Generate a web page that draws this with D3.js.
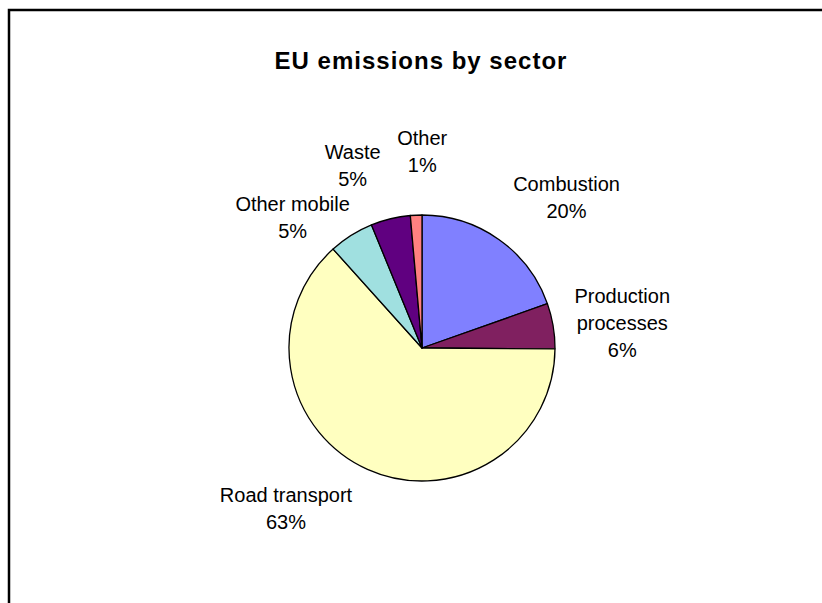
<!DOCTYPE html>
<html>
<head>
<meta charset="utf-8">
<script src="https://cdn.jsdelivr.net/npm/d3@7"></script>
<style>
  body { margin: 0; background: #fff; }
  svg { display: block; font-family: "Liberation Sans", Arial, sans-serif; }
</style>
</head>
<body>
<div id="chart"></div>
<script>
// pie data (percent of total)
const sectors = ["Combustion", "Production processes", "Road transport", "Other mobile", "Waste", "Other"];
const shares = [19.6, 5.5, 63.25, 5.45, 4.8, 1.4];
const colours = ["#8080FF", "#802060", "#FFFFC0", "#A0E0E0", "#600080", "#FF8080"];
// how each label is broken over lines
const labelLines = [["Combustion"], ["Production", "processes"], ["Road transport"], ["Other mobile"], ["Waste"], ["Other"]];

const width = 822;
const height = 603;
const cx = 422, cy = 348, radius = 133;
const lineGap = 27;

// Excel pushes some labels around; small per-label shifts from the plain centroid
const labelNudge = [[29, 13], [3, 8], [-54, -22], [-23, 39], [-22, 12], [9, 3]];

const data = sectors.map((s, i) => ({name: s, value: shares[i], colour: colours[i], lines: labelLines[i], nudge: labelNudge[i]}));

const svg = d3.select("#chart")
  .append("svg")
  .attr("width", width)
  .attr("height", height);

// chart frame (runs off the right and bottom edge)
svg.append("rect")
  .attr("x", 9)
  .attr("y", 10)
  .attr("width", width + 20)
  .attr("height", height + 20)
  .attr("fill", "#fff")
  .attr("stroke", "#000")
  .attr("stroke-width", 2.5);

// title
svg.append("text")
  .attr("x", 421)
  .attr("y", 69)
  .attr("text-anchor", "middle")
  .attr("font-size", "24px")
  .attr("font-weight", "bold")
  .attr("letter-spacing", "1px")
  .text("EU emissions by sector");

const pie = d3.pie()
  .value(d => d.value)
  .sort(null);

const arc = d3.arc()
  .innerRadius(0)
  .outerRadius(radius);

const labelArc = d3.arc()
  .innerRadius(200)
  .outerRadius(200);

const arcs = pie(data);

const g = svg.append("g")
  .attr("transform", `translate(${cx},${cy})`);

g.selectAll(".slice")
  .data(arcs)
  .enter()
  .append("path")
    .attr("class", "slice")
    .attr("d", arc)
    .attr("fill", d => d.data.colour)
    .attr("stroke", "#000")
    .attr("stroke-width", 1.3)
    .attr("stroke-linejoin", "round");

// labels: name lines plus rounded percent
const labels = g.selectAll(".label")
  .data(arcs)
  .enter()
  .append("text")
    .attr("class", "label")
    .attr("text-anchor", "middle")
    .attr("font-size", "20px")
    .attr("fill", "#000")
    .attr("transform", d => {
      const c = labelArc.centroid(d);
      return `translate(${c[0] + d.data.nudge[0]},${c[1] + d.data.nudge[1]})`;
    });

labels.each(function(d) {
  const lines = d.data.lines.concat([Math.round(d.data.value) + "%"]);
  const top = -(lines.length - 1) * lineGap / 2 + 7;
  d3.select(this).selectAll("tspan")
    .data(lines)
    .enter()
    .append("tspan")
      .attr("x", 0)
      .attr("y", (t, i) => top + i * lineGap)
      .text(t => t);
});
</script>
</body>
</html>
